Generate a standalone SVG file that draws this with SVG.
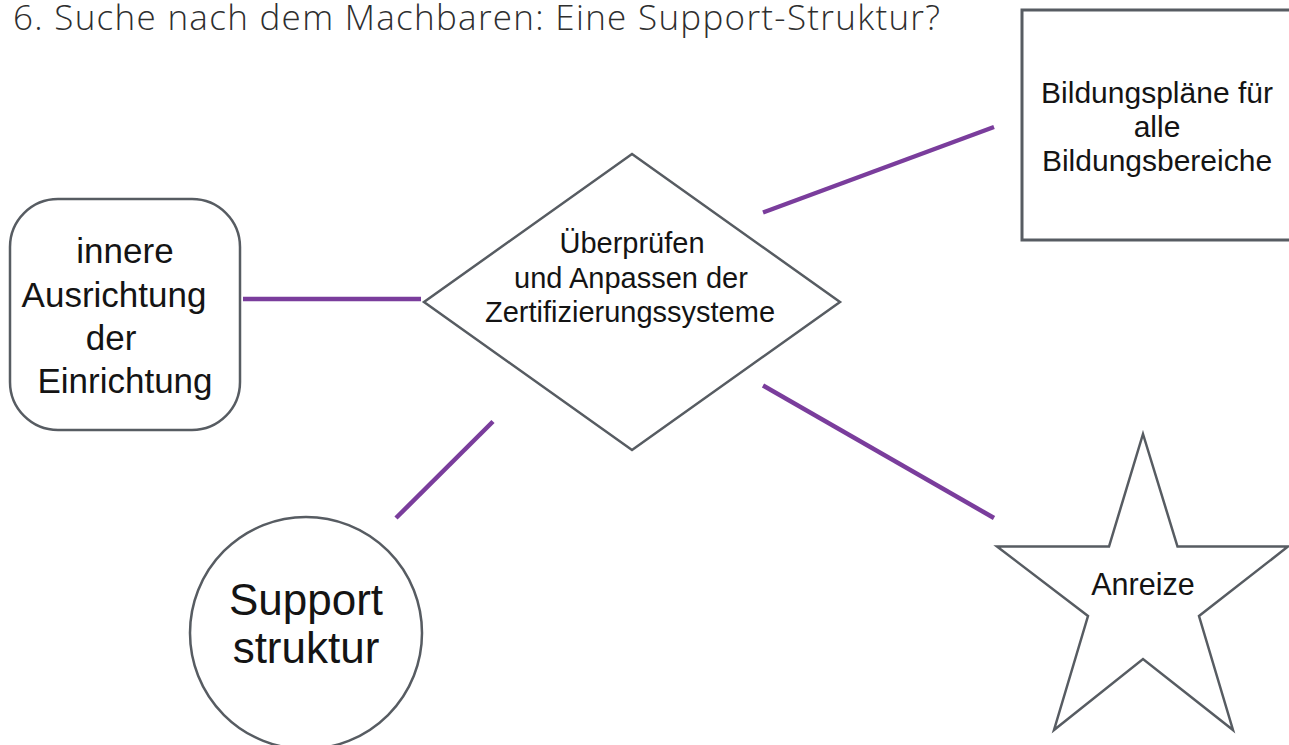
<svg xmlns="http://www.w3.org/2000/svg" width="1289" height="745" viewBox="0 0 1289 745">
<style>
  .shape { fill: #ffffff; stroke: #575c62; stroke-width: 2.5; }
  .conn { stroke: #7a3d9c; stroke-width: 4.5; stroke-linecap: butt; fill: none; }
  .lbl { font-family: "Liberation Sans", Arial, sans-serif; fill: #141414; text-anchor: middle; }
  .title { font-family: "Open Sans", "Liberation Sans", sans-serif; font-weight: 300; fill: #2e2e2e; font-size: 35px; }
</style>
<rect width="1289" height="745" fill="#ffffff"/>
<text class="title" x="13" y="30" textLength="927" lengthAdjust="spacing">6. Suche nach dem Machbaren: Eine Support-Struktur?</text>

<g id="connectors">
  <line class="conn" x1="243" y1="299" x2="421" y2="299"/>
  <line class="conn" x1="763" y1="212.5" x2="994" y2="127"/>
  <line class="conn" x1="763" y1="385.5" x2="994" y2="518"/>
  <line class="conn" x1="493" y1="421.5" x2="396" y2="518"/>
</g>

<g id="node-innere">
  <rect class="shape" x="10" y="199" width="230" height="231" rx="48" ry="48"/>
  <text class="lbl" font-size="35" x="125" y="263">innere</text>
  <text class="lbl" font-size="35" x="114" y="306.5">Ausrichtung</text>
  <text class="lbl" font-size="35" x="111" y="350">der</text>
  <text class="lbl" font-size="35" x="125" y="393">Einrichtung</text>
</g>

<g id="node-diamond">
  <polygon class="shape" points="632,154 840,302 632,450 424,302"/>
  <text class="lbl" font-size="29" x="632" y="253">Überprüfen</text>
  <text class="lbl" font-size="29" x="631" y="288">und Anpassen der</text>
  <text class="lbl" font-size="29" x="630" y="322">Zertifizierungssysteme</text>
</g>

<g id="node-bildungsplaene">
  <rect class="shape" x="1022" y="10" width="272" height="230" style="stroke-width:3"/>
  <text class="lbl" font-size="30" x="1157" y="103">Bildungspläne für</text>
  <text class="lbl" font-size="30" x="1157" y="137">alle</text>
  <text class="lbl" font-size="30" x="1157" y="171">Bildungsbereiche</text>
</g>

<g id="node-support">
  <circle class="shape" cx="306" cy="633" r="116"/>
  <text class="lbl" font-size="44" x="306" y="615">Support</text>
  <text class="lbl" font-size="44" x="306" y="663">struktur</text>
</g>

<g id="node-anreize">
  <polygon class="shape" points="1143,434 1177.5,546.5 1288,546.5 1199,616 1233,730 1143,659 1054,730 1088,616 997,546.5 1109,546.5"/>
  <text class="lbl" font-size="30.5" x="1143" y="595">Anreize</text>
</g>
</svg>
